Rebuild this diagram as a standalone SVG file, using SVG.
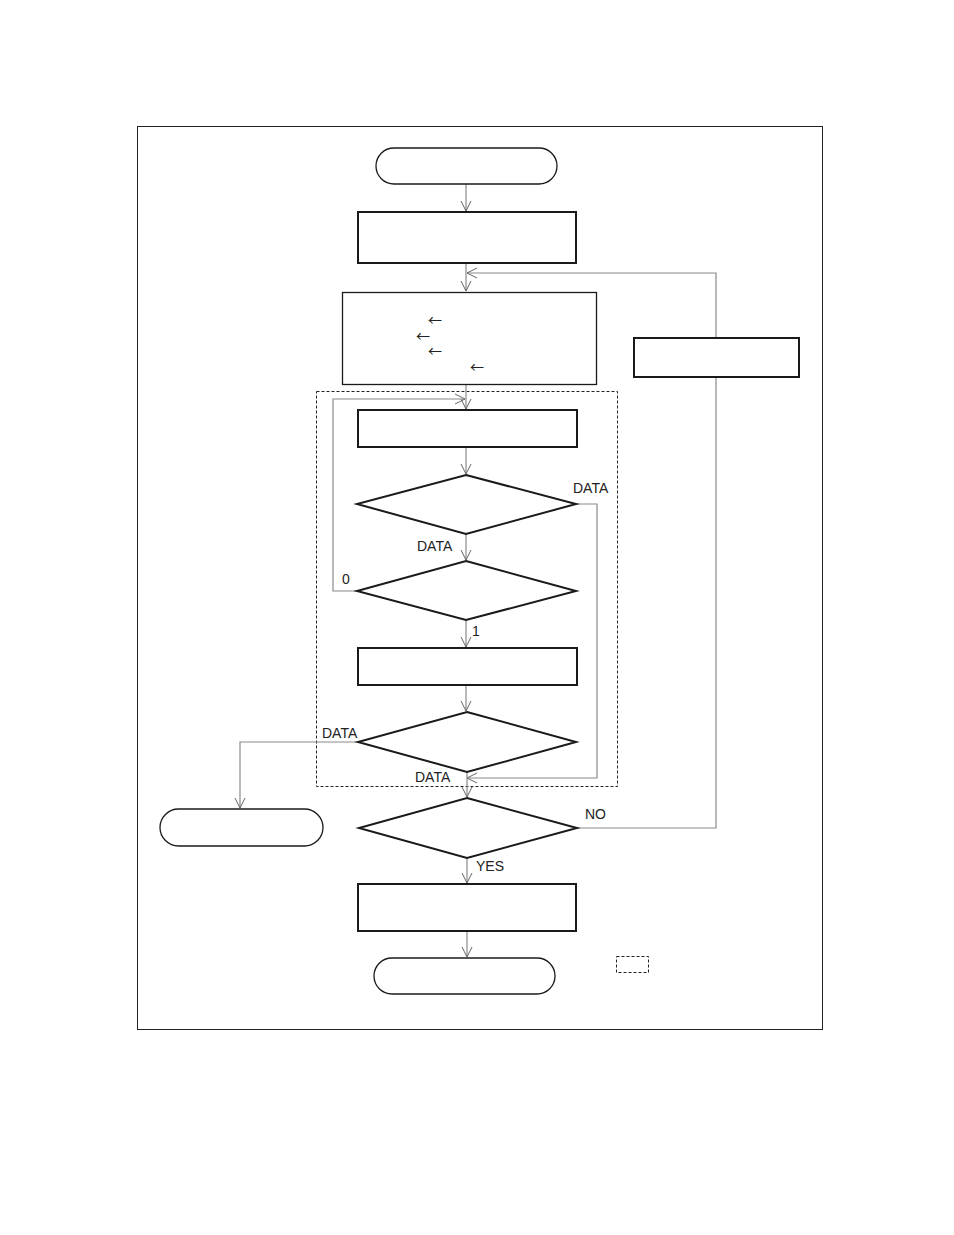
<svg xmlns="http://www.w3.org/2000/svg" width="954" height="1235" viewBox="0 0 954 1235">
<style>
.frame{fill:none;stroke:#222;stroke-width:1}
.node{fill:#fff;stroke:#1a1a1a;stroke-width:2}
.thin{fill:#fff;stroke:#1a1a1a;stroke-width:1.3}
.dash{fill:none;stroke:#222;stroke-width:1;stroke-dasharray:3,2}
.conn{fill:none;stroke:#8a8a8a;stroke-width:1.2}
.lbl{font-family:"Liberation Sans",Arial,sans-serif;font-size:14px;fill:#222}
.sym{font-family:"Noto Sans CJK JP","DejaVu Sans",sans-serif;font-size:14px;fill:#222}
</style>
<defs>
<marker id="ah" viewBox="0 0 12 12" refX="11" refY="6" markerWidth="12" markerHeight="12" markerUnits="userSpaceOnUse" orient="auto">
<path d="M1,1 L11,6 L1,11" fill="none" stroke="#666" stroke-width="1"/>
</marker>
</defs>
<rect width="954" height="1235" fill="#fff"/>
<rect class="frame" x="137.5" y="126.5" width="685" height="903"/>
<rect id="group-box" class="dash" x="316.5" y="391.5" width="301" height="395"/>
<rect id="legend" class="dash" x="616.5" y="956.5" width="32" height="16"/>

<g id="connectors">
<line class="conn" x1="466" y1="184" x2="466" y2="211" marker-end="url(#ah)"/>
<line class="conn" x1="466" y1="263" x2="466" y2="291" marker-end="url(#ah)"/>
<polyline class="conn" points="716,338 716,273 467,273" marker-end="url(#ah)"/>
<line class="conn" x1="466" y1="384" x2="466" y2="409" marker-end="url(#ah)"/>
<polyline class="conn" points="357,591 333,591 333,399 465,399" marker-end="url(#ah)"/>
<line class="conn" x1="466" y1="447" x2="466" y2="474" marker-end="url(#ah)"/>
<polyline class="conn" points="576,504 597,504 597,778 467,778" marker-end="url(#ah)"/>
<line class="conn" x1="466" y1="534" x2="466" y2="560" marker-end="url(#ah)"/>
<line class="conn" x1="466" y1="620" x2="466" y2="647" marker-end="url(#ah)"/>
<line class="conn" x1="466" y1="685" x2="466" y2="711" marker-end="url(#ah)"/>
<polyline class="conn" points="358,742 240,742 240,808" marker-end="url(#ah)"/>
<line class="conn" x1="467" y1="772" x2="467" y2="797" marker-end="url(#ah)"/>
<polyline class="conn" points="577,828 716,828 716,377"/>
<line class="conn" x1="467" y1="858" x2="467" y2="883" marker-end="url(#ah)"/>
<line class="conn" x1="467" y1="931" x2="467" y2="957" marker-end="url(#ah)"/>
</g>

<g id="start"><rect class="thin" x="376" y="148" width="181" height="36" rx="18"/></g>
<g id="box1"><rect class="node" x="358" y="212" width="218" height="51"/></g>
<g id="box2"><rect class="thin" x="342.5" y="292.5" width="254" height="92"/>
<text class="sym" x="428" y="325">←</text>
<text class="sym" x="416" y="341">←</text>
<text class="sym" x="428" y="356">←</text>
<text class="sym" x="470" y="372">←</text>
</g>
<g id="box-right"><rect class="node" x="634" y="338" width="165" height="39"/></g>
<g id="box3"><rect class="node" x="358" y="410" width="219" height="37"/></g>
<g id="dec1"><polygon class="node" points="466,475 576,504 466,534 357,504"/></g>
<g id="dec2"><polygon class="node" points="466,561 576,591 466,620 357,591"/></g>
<g id="box4"><rect class="node" x="358" y="648" width="219" height="37"/></g>
<g id="dec3"><polygon class="node" points="467,712 576,742 467,772 358,742"/></g>
<g id="term-left"><rect class="thin" x="160" y="809" width="163" height="37" rx="18.5"/></g>
<g id="dec4"><polygon class="node" points="467,798 577,828 467,858 359,828"/></g>
<g id="box5"><rect class="node" x="358" y="884" width="218" height="47"/></g>
<g id="end"><rect class="thin" x="374" y="958" width="181" height="36" rx="18"/></g>

<g id="labels">
<text class="lbl" x="573" y="493">DATA</text>
<text class="lbl" x="417" y="551">DATA</text>
<text class="lbl" x="342" y="584">0</text>
<text class="lbl" x="472" y="636">1</text>
<text class="lbl" x="322" y="738">DATA</text>
<text class="lbl" x="415" y="782">DATA</text>
<text class="lbl" x="585" y="819">NO</text>
<text class="lbl" x="476" y="871">YES</text>
</g>
</svg>
